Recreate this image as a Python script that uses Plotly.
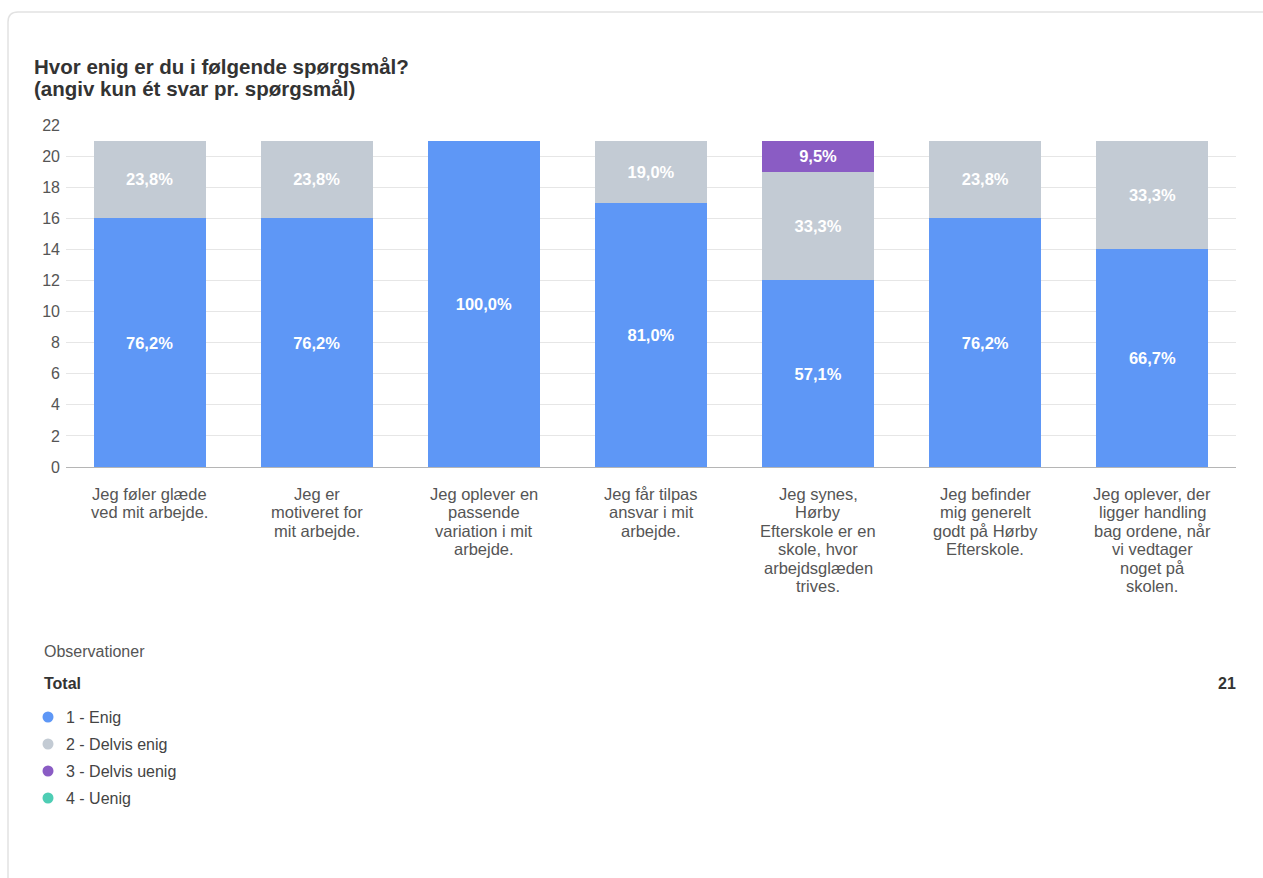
import plotly.graph_objects as go

# ---------------- data ----------------
categories = [
    "Jeg føler glæde ved mit arbejde.",
    "Jeg er motiveret for mit arbejde.",
    "Jeg oplever en passende variation i mit arbejde.",
    "Jeg får tilpas ansvar i mit arbejde.",
    "Jeg synes, Hørby Efterskole er en skole, hvor arbejdsglæden trives.",
    "Jeg befinder mig generelt godt på Hørby Efterskole.",
    "Jeg oplever, der ligger handling bag ordene, når vi vedtager noget på skolen.",
]
category_lines = [
    ["Jeg føler glæde", "ved mit arbejde."],
    ["Jeg er", "motiveret for", "mit arbejde."],
    ["Jeg oplever en", "passende", "variation i mit", "arbejde."],
    ["Jeg får tilpas", "ansvar i mit", "arbejde."],
    ["Jeg synes,", "Hørby", "Efterskole er en", "skole, hvor", "arbejdsglæden", "trives."],
    ["Jeg befinder", "mig generelt", "godt på Hørby", "Efterskole."],
    ["Jeg oplever, der", "ligger handling", "bag ordene, når", "vi vedtager", "noget på", "skolen."],
]
series_names = ["1 - Enig", "2 - Delvis enig", "3 - Delvis uenig", "4 - Uenig"]
enig = [16, 16, 21, 17, 12, 16, 14]
delvis_enig = [5, 5, 0, 4, 7, 5, 7]
delvis_uenig = [0, 0, 0, 0, 2, 0, 0]
uenig = [0, 0, 0, 0, 0, 0, 0]
series_values = [enig, delvis_enig, delvis_uenig, uenig]
colors = ["#5e97f6", "#c3cbd4", "#8a5cc4", "#4ecdb4"]
total_n = 21
y_ticks = list(range(0, 23, 2))

# ---------------- layout geometry ----------------
W, H = 1263, 878
ML, MR, MT, MB = 66, 27, 125, 411
PW, PH = W - ML - MR, H - MT - MB


def px(x):
    return (x - ML) / PW


def py(y):
    return (H - MB - y) / PH


FONT = "Liberation Sans, Arial, Helvetica, sans-serif"

fig = go.Figure()
totals = [sum(v[i] for v in series_values) for i in range(len(categories))]
for name, vals, col in zip(series_names, series_values, colors):
    texts = [
        ("" if v == 0 else "<b>" + f"{v / t * 100:.1f}".replace(".", ",") + "%</b>")
        for v, t in zip(vals, totals)
    ]
    fig.add_trace(go.Bar(
        x=categories, y=vals, name=name,
        marker=dict(color=col, line=dict(width=0)),
        text=texts, textposition="inside", insidetextanchor="middle",
        textangle=0, constraintext="none",
        insidetextfont=dict(color="white", size=16.5, family=FONT),
        showlegend=False,
    ))

annotations = []
# category labels (multi-line, tight line spacing)
for cat, lines in zip(categories, category_lines):
    for i, line in enumerate(lines):
        annotations.append(dict(
            x=cat, xref="x", y=py(494), yref="paper", yshift=-18.4 * i,
            text=line, showarrow=False, xanchor="center", yanchor="middle",
            font=dict(size=16.5, color="#555555", family=FONT),
        ))

# title
title_lines = ["Hvor enig er du i følgende spørgsmål?", "(angiv kun ét svar pr. spørgsmål)"]
for i, t in enumerate(title_lines):
    annotations.append(dict(
        x=px(32), y=py(66 + 23 * i), xref="paper", yref="paper",
        text=f"<b>{t}</b>", showarrow=False, xanchor="left", yanchor="middle",
        font=dict(size=20.5, color="#333333", family=FONT),
    ))

# legend block
annotations.append(dict(
    x=px(42), y=py(651), xref="paper", yref="paper", text="Observationer",
    showarrow=False, xanchor="left", yanchor="middle",
    font=dict(size=16, color="#555555", family=FONT),
))
annotations.append(dict(
    x=px(42), y=py(683), xref="paper", yref="paper", text="<b>Total</b>",
    showarrow=False, xanchor="left", yanchor="middle",
    font=dict(size=16, color="#333333", family=FONT),
))
annotations.append(dict(
    x=px(1238), y=py(683), xref="paper", yref="paper", text=f"<b>{total_n}</b>",
    showarrow=False, xanchor="right", yanchor="middle",
    font=dict(size=16, color="#333333", family=FONT),
))

shapes = []
for i, (name, col) in enumerate(zip(series_names, colors)):
    yy = 717 + 27 * i
    annotations.append(dict(
        x=px(64), y=py(yy), xref="paper", yref="paper", text=name,
        showarrow=False, xanchor="left", yanchor="middle",
        font=dict(size=16, color="#444444", family=FONT),
    ))
    shapes.append(dict(
        type="circle", xref="paper", yref="paper",
        xsizemode="pixel", ysizemode="pixel",
        xanchor=px(48), yanchor=py(yy),
        x0=-5.5, x1=5.5, y0=-5.5, y1=5.5,
        fillcolor=col, line=dict(width=0),
    ))

# card border
path = (f"M {px(8)},{py(900)} L {px(8)},{py(22)} "
        f"Q {px(8)},{py(12)} {px(18)},{py(12)} L {px(1300)},{py(12)}")
shapes.append(dict(type="path", xref="paper", yref="paper", path=path,
                   line=dict(color="#e2e2e2", width=1.5), layer="below"))

fig.update_layout(
    width=W, height=H, autosize=False,
    margin=dict(l=ML, r=MR, t=MT, b=MB, pad=0),
    barmode="stack", bargap=0.33,
    paper_bgcolor="white", plot_bgcolor="white",
    separators=",.",
    showlegend=False,
    annotations=annotations, shapes=shapes,
    xaxis=dict(showticklabels=False, showgrid=False, ticks="",
               showline=False, fixedrange=True),
    yaxis=dict(range=[0, 22], tickvals=y_ticks, showgrid=True,
               gridcolor="#e6e6e6", gridwidth=1,
               zeroline=True, zerolinecolor="#b5b5b5", zerolinewidth=1,
               ticks="", ticklabelstandoff=5,
               tickfont=dict(size=16, color="#555555", family=FONT),
               showline=False, fixedrange=True),
    font=dict(family=FONT),
)

fig.write_html("out.html")
